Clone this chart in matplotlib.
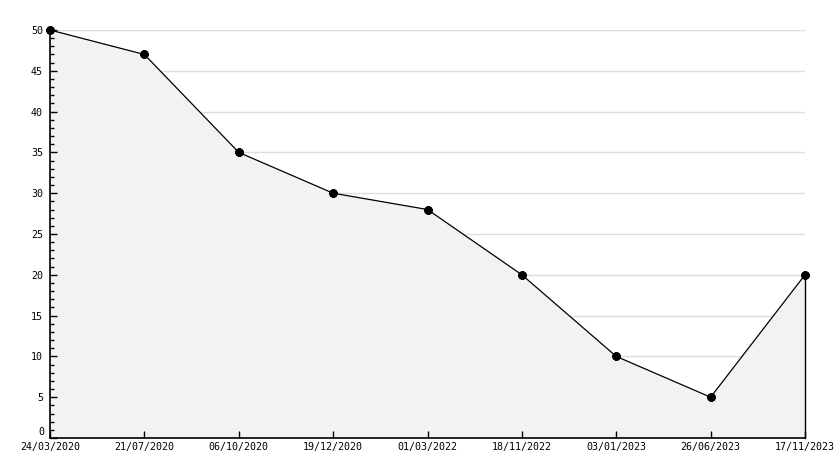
import matplotlib
matplotlib.use('Agg')
import matplotlib.pyplot as plt
import matplotlib.transforms as mtransforms
from matplotlib.ticker import MultipleLocator, FuncFormatter

dates = ['24/03/2020', '21/07/2020', '06/10/2020', '19/12/2020', '01/03/2022',
         '18/11/2022', '03/01/2023', '26/06/2023', '17/11/2023']
values = [50, 47, 35, 30, 28, 20, 10, 5, 20]
grid_levels = [5, 10, 15, 20, 25, 30, 35, 40, 45, 50]

plt.rcParams['font.family'] = 'DejaVu Sans Mono'
plt.rcParams['font.size'] = 7.2

fig = plt.figure(figsize=(8.34, 4.68), dpi=100)
ax = fig.add_axes([50 / 834, 30 / 468, 755 / 834, 408 / 468])

x = list(range(len(values)))

# grid under the fill
for g in grid_levels:
    ax.axhline(g, color='#dddddd', lw=1, zorder=0.5)

ax.fill_between(x, values, 0, color='#f2f2f2', lw=0, zorder=1)
ax.plot([x[-1], x[-1]], [0, values[-1]], color='black', lw=1, zorder=2, clip_on=False)
ax.plot(x, values, color='black', lw=0.9, marker=(8, 2, 0), ms=6, mew=2,
        zorder=3, clip_on=False)

ax.set_xlim(0, len(values) - 1)
ax.set_ylim(0, 50)
ax.set_xticks(x)
ax.set_xticklabels(dates)
ax.yaxis.set_major_locator(MultipleLocator(5))
ax.yaxis.set_minor_locator(MultipleLocator(1))
# the "0" label sits a bit higher in the original, drawn separately below
ax.yaxis.set_major_formatter(FuncFormatter(lambda v, p: '' if v == 0 else f'{v:g}'))

ax.tick_params(axis='y', which='major', direction='in', length=5, width=1, pad=5)
ax.tick_params(axis='y', which='minor', direction='in', length=3, width=1)
ax.tick_params(axis='x', which='major', direction='in', length=5, width=1, pad=3)

off = mtransforms.ScaledTranslation(-6 / 100, 6 / 100, fig.dpi_scale_trans)
ax.text(0, 0, '0', transform=ax.transAxes + off, ha='right', va='center')

for s in ['top', 'right']:
    ax.spines[s].set_visible(False)
for s in ['left', 'bottom']:
    ax.spines[s].set_linewidth(1.2)
    ax.spines[s].set_zorder(4)

fig.savefig('out.png', dpi=100)
